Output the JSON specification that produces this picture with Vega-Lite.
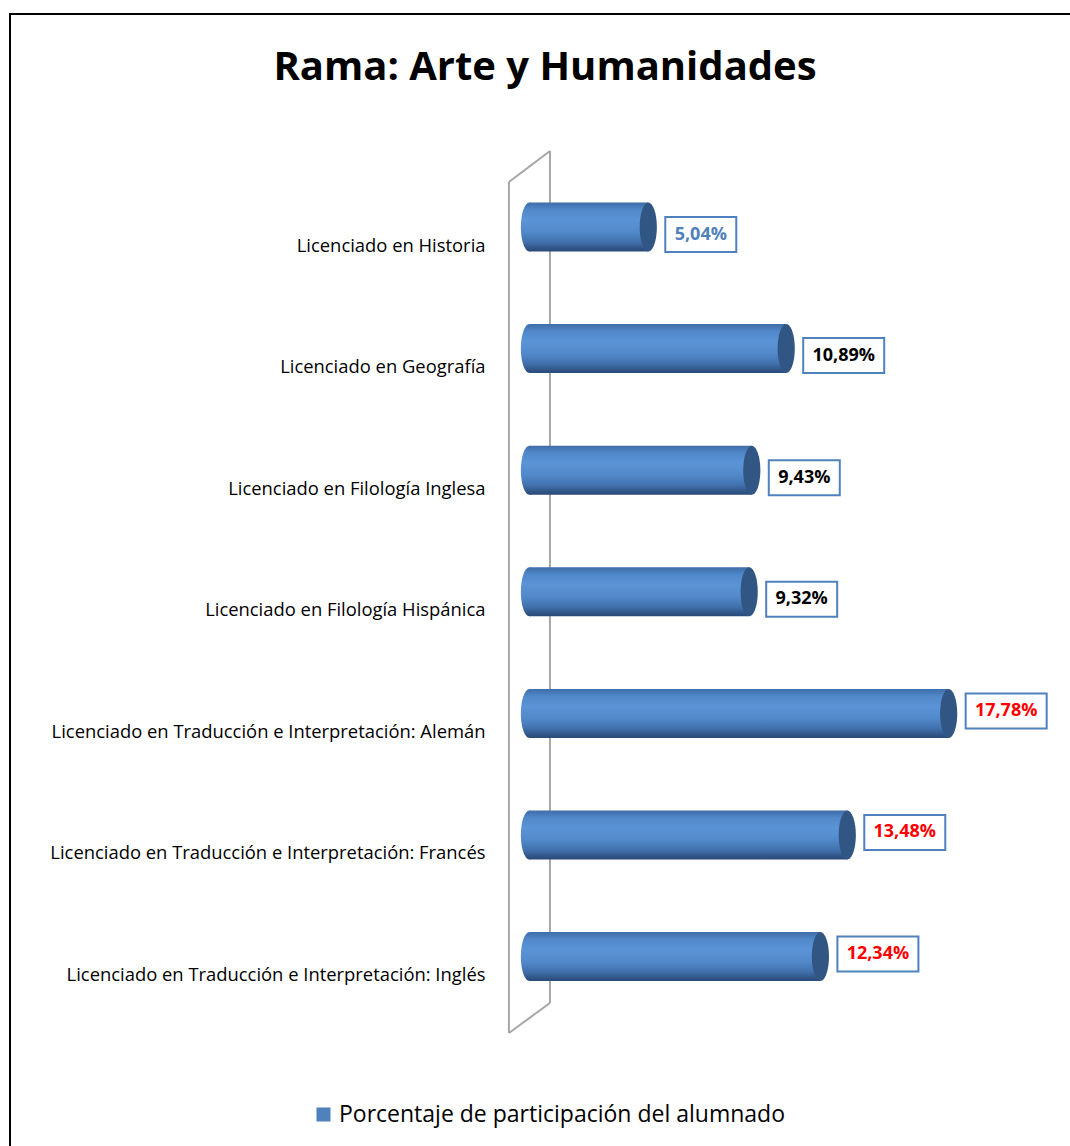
{
  "$schema": "https://vega.github.io/schema/vega-lite/v6.json",
  "autosize": {"type": "none"},
  "padding": {"left": 10, "top": 14, "right": -10, "bottom": -14},
  "width": 1070,
  "height": 1146,
  "background": "white",
  "title": {"text": "Rama: Arte y Humanidades", "font": "Open Sans", "fontSize": 40, "fontWeight": "bold", "color": "black", "anchor": "middle", "frame": "group", "baseline": "alphabetic", "offset": 0, "dy": 106},
  "config": {"font": "Open Sans", "view": {"stroke": "black", "strokeWidth": 2}},
  "data": {"values": [
    {"carrera": "Licenciado en Historia", "pct": 5.04, "etiqueta": "5,04%"},
    {"carrera": "Licenciado en Geografía", "pct": 10.89, "etiqueta": "10,89%"},
    {"carrera": "Licenciado en Filología Inglesa", "pct": 9.43, "etiqueta": "9,43%"},
    {"carrera": "Licenciado en Filología Hispánica", "pct": 9.32, "etiqueta": "9,32%"},
    {"carrera": "Licenciado en Traducción e Interpretación: Alemán", "pct": 17.78, "etiqueta": "17,78%"},
    {"carrera": "Licenciado en Traducción e Interpretación: Francés", "pct": 13.48, "etiqueta": "13,48%"},
    {"carrera": "Licenciado en Traducción e Interpretación: Inglés", "pct": 12.34, "etiqueta": "12,34%"}
  ]},
  "encoding": {
    "y": {"field": "carrera", "type": "nominal",
      "scale": {"domain": ["Licenciado en Historia", "Licenciado en Geografía", "Licenciado en Filología Inglesa", "Licenciado en Filología Hispánica", "Licenciado en Traducción e Interpretación: Alemán", "Licenciado en Traducción e Interpretación: Francés", "Licenciado en Traducción e Interpretación: Inglés"], "paddingInner": 0.597, "paddingOuter": 0, "range": [188.5, 967.1]},
      "axis": {"orient": "left", "offset": -475, "domain": false, "ticks": false, "tickSize": 0, "labelPadding": 0, "labelOffset": 18.5, "labelFont": "Open Sans", "labelFontSize": 18.4, "labelColor": "black", "labelLimit": 1000, "title": null, "grid": false}
    }
  },
  "layer": [
    {"data": {"values": [{}]}, "mark": {"type": "rule", "color": "#A6A6A6", "strokeWidth": 2},
     "encoding": {"x": {"datum": -0.87, "type": "quantitative", "scale": {"domain": [-22.03, 23.35], "nice": false, "zero": false}, "axis": null},
       "y": {"datum": "Licenciado en Historia", "type": "nominal", "bandPosition": -0.418},
       "y2": {"datum": "Licenciado en Traducción e Interpretación: Inglés", "bandPosition": 2.059}}},
    {"data": {"values": [{}]}, "mark": {"type": "rule", "color": "#A6A6A6", "strokeWidth": 2},
     "encoding": {"x": {"datum": 0.87, "type": "quantitative"},
       "y": {"datum": "Licenciado en Historia", "type": "nominal", "bandPosition": -1.051},
       "y2": {"datum": "Licenciado en Traducción e Interpretación: Inglés", "bandPosition": 1.447}}},
    {"data": {"values": [{}]}, "mark": {"type": "rule", "color": "#A6A6A6", "strokeWidth": 2},
     "encoding": {"x": {"datum": -0.87, "type": "quantitative"}, "x2": {"datum": 0.87},
       "y": {"datum": "Licenciado en Historia", "type": "nominal", "bandPosition": -0.418},
       "y2": {"datum": "Licenciado en Historia", "bandPosition": -1.051}}},
    {"data": {"values": [{}]}, "mark": {"type": "rule", "color": "#A6A6A6", "strokeWidth": 2},
     "encoding": {"x": {"datum": -0.87, "type": "quantitative"}, "x2": {"datum": 0.87},
       "y": {"datum": "Licenciado en Traducción e Interpretación: Inglés", "type": "nominal", "bandPosition": 2.059},
       "y2": {"datum": "Licenciado en Traducción e Interpretación: Inglés", "bandPosition": 1.447}}},
    {"mark": {"type": "square", "opacity": 0, "filled": true},
     "encoding": {"x": {"datum": 0, "type": "quantitative"},
       "color": {"datum": "Porcentaje de participación del alumnado", "type": "nominal", "scale": {"range": ["#4F81BD"]},
         "legend": {"orient": "none", "legendX": 302, "legendY": 1089, "title": null, "symbolType": "square", "symbolSize": 196, "symbolOpacity": 1, "symbolStrokeWidth": 0, "labelFont": "Open Sans", "labelFontSize": 23, "labelColor": "black", "labelOffset": 4, "labelLimit": 1000, "padding": 0}}}},
    {"mark": {"type": "point", "shape": "M-0.35,0A0.35,1 0 1,1 0.35,0A0.35,1 0 1,1 -0.35,0Z", "size": 2401, "filled": true, "opacity": 1, "strokeWidth": 0,
       "fill": {"gradient": "linear", "x1": 0, "y1": 0, "x2": 0, "y2": 1, "stops": [{"offset": 0, "color": "#3F6DA8"}, {"offset": 0.15, "color": "#5088CA"}, {"offset": 0.35, "color": "#5B94D6"}, {"offset": 0.6, "color": "#5289CB"}, {"offset": 0.8, "color": "#4272AE"}, {"offset": 0.95, "color": "#2F5283"}, {"offset": 1, "color": "#2A4A77"}]}},
     "encoding": {"x": {"datum": 0, "type": "quantitative"}}},
    {"mark": {"type": "bar", "height": 49, "strokeWidth": 0,
       "fill": {"gradient": "linear", "x1": 0, "y1": 0, "x2": 0, "y2": 1, "stops": [{"offset": 0, "color": "#3F6DA8"}, {"offset": 0.15, "color": "#5088CA"}, {"offset": 0.35, "color": "#5B94D6"}, {"offset": 0.6, "color": "#5289CB"}, {"offset": 0.8, "color": "#4272AE"}, {"offset": 0.95, "color": "#2F5283"}, {"offset": 1, "color": "#2A4A77"}]}},
     "encoding": {"x": {"field": "pct", "type": "quantitative"}, "x2": {"datum": 0}}},
    {"mark": {"type": "point", "shape": "M-0.35,0A0.35,1 0 1,1 0.35,0A0.35,1 0 1,1 -0.35,0Z", "size": 2401, "filled": true, "opacity": 1, "strokeWidth": 0, "fill": "#325684"},
     "encoding": {"x": {"field": "pct", "type": "quantitative"}}},
    {"transform": [{"filter": "datum.pct < 10"}],
     "mark": {"type": "bar", "height": 35, "fill": "white", "stroke": "#4F81BD", "strokeWidth": 2, "xOffset": 17, "x2Offset": 88, "yOffset": 7.5},
     "encoding": {"x": {"field": "pct", "type": "quantitative"}, "x2": {"field": "pct"}}},
    {"transform": [{"filter": "datum.pct >= 10 && indexof(datum.carrera, 'Traducción') < 0"}],
     "mark": {"type": "bar", "height": 35, "fill": "white", "stroke": "#4F81BD", "strokeWidth": 2, "xOffset": 17, "x2Offset": 98, "yOffset": 7},
     "encoding": {"x": {"field": "pct", "type": "quantitative"}, "x2": {"field": "pct"}}},
    {"transform": [{"filter": "indexof(datum.carrera, 'Traducción') >= 0"}],
     "mark": {"type": "bar", "height": 35, "fill": "white", "stroke": "#4F81BD", "strokeWidth": 2, "xOffset": 17, "x2Offset": 98, "yOffset": -2.5},
     "encoding": {"x": {"field": "pct", "type": "quantitative"}, "x2": {"field": "pct"}}},
    {"transform": [{"filter": "datum.pct < 10"}],
     "mark": {"type": "text", "font": "Open Sans", "fontSize": 18, "fontWeight": "bold", "align": "center", "baseline": "middle", "xOffset": 52.5, "yOffset": 7.5},
     "encoding": {"x": {"field": "pct", "type": "quantitative"}, "text": {"field": "etiqueta"},
       "color": {"condition": {"test": "datum.carrera == 'Licenciado en Historia'", "value": "#4F81BD"}, "value": "black"}}},
    {"transform": [{"filter": "datum.pct >= 10 && indexof(datum.carrera, 'Traducción') < 0"}],
     "mark": {"type": "text", "font": "Open Sans", "fontSize": 18, "fontWeight": "bold", "align": "center", "baseline": "middle", "xOffset": 57.5, "yOffset": 7, "color": "black"},
     "encoding": {"x": {"field": "pct", "type": "quantitative"}, "text": {"field": "etiqueta"}}},
    {"transform": [{"filter": "indexof(datum.carrera, 'Traducción') >= 0"}],
     "mark": {"type": "text", "font": "Open Sans", "fontSize": 18, "fontWeight": "bold", "align": "center", "baseline": "middle", "xOffset": 57.5, "yOffset": -2.5, "color": "#FF0000"},
     "encoding": {"x": {"field": "pct", "type": "quantitative"}, "text": {"field": "etiqueta"}}}
  ]
}
